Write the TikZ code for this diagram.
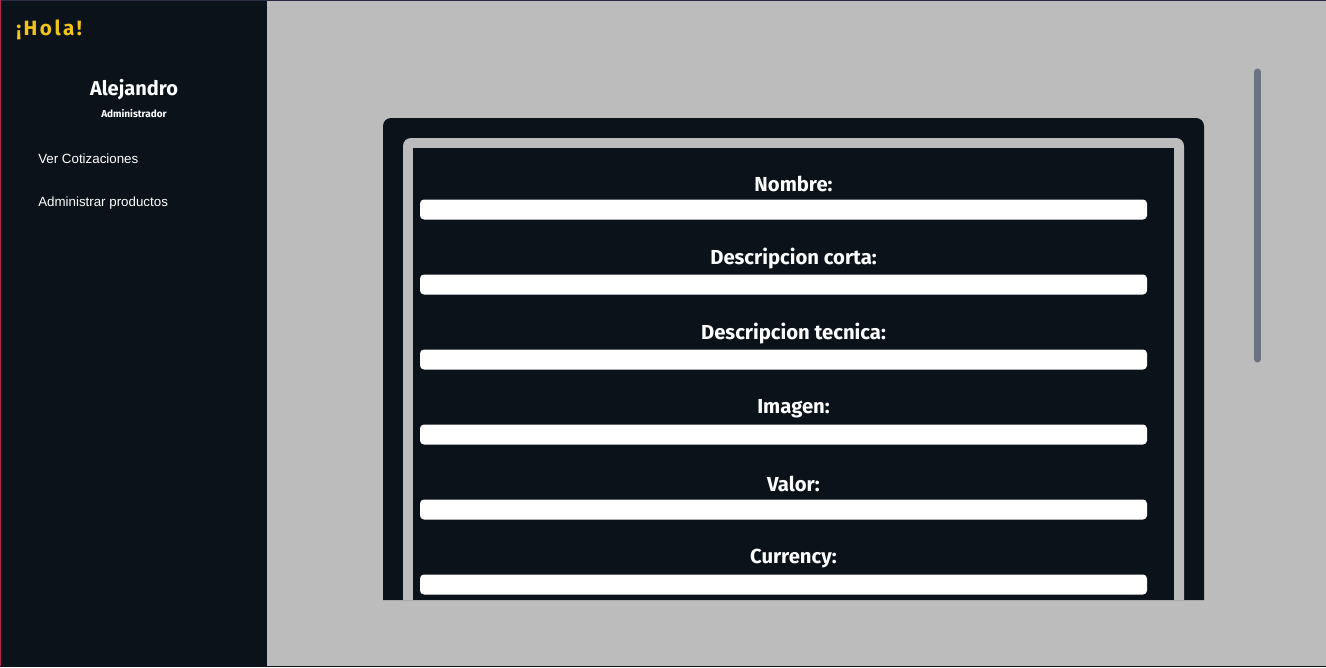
\documentclass[tikz,border=0pt]{standalone}
\usepackage{fontspec}
\setmainfont{Liberation Sans}
\newfontfamily\headfont{Fira Sans}
\usetikzlibrary{positioning}
\definecolor{sidebg}{HTML}{0C121A}
\definecolor{mainbg}{HTML}{BBBCBB}
\definecolor{holayellow}{HTML}{F2C318}
\definecolor{scrollgray}{HTML}{6B7280}
\definecolor{edgered}{HTML}{B0284A}
\definecolor{edgetop}{HTML}{2E2A45}
\tikzset{
    greeting/.style={text=holayellow, font=\headfont\bfseries\addfontfeature{LetterSpace=12}\fontsize{15.5}{18}\selectfont, inner sep=0pt},
    username/.style={text=white, font=\headfont\bfseries\fontsize{15}{18}\selectfont, inner sep=0pt},
    userrole/.style={text=white, font=\headfont\bfseries\fontsize{7.5}{9}\selectfont, inner sep=0pt},
    menuitem/.style={text=white, font=\fontsize{10}{12}\selectfont, inner sep=0pt, anchor=west},
    fieldlabel/.style={text=white, font=\headfont\bfseries\fontsize{15.2}{18}\selectfont, inner sep=0pt},
    field/.style={fill=white, rounded corners=3pt, minimum width=545.25pt, minimum height=15pt, inner sep=0pt},
    scrollbar/.style={line width=5.25pt, line cap=round, scrollgray},
}

\begin{document}
\begin{tikzpicture}[x=0.75pt, y=-0.75pt]
    % page
    \useasboundingbox (0,0) rectangle (1326,667);
    \fill[mainbg] (0,0) rectangle (1326,667);
    \fill[sidebg] (0,0) rectangle (267,667);
    \draw[edgetop, line width=0.75pt] (0,0.5) -- (1326,0.5);
    \draw[edgered, line width=0.75pt] (0.5,0) -- (0.5,667);
    \draw[sidebg, line width=0.75pt] (0,666.5) -- (1326,666.5);

    % sidebar
    \node[greeting, anchor=west] (hola) at (16,29.5) {¡Hola!};
    \node[username] (name) at (134,90) {Alejandro};
    \node[userrole, below=6.5pt of name] (role) {Administrador};
    \node[menuitem] (cotiz) at (38,158.5) {Ver Cotizaciones};
    \node[menuitem] (products) at (38,203.5) {Administrar productos};

    % scrollbar
    \coordinate (sbtop) at (1257.5,72);
    \coordinate (sbbot) at (1257.5,359);
    \draw[scrollbar] (sbtop) -- (sbbot);

    % form card
    \fill[sidebg, rounded corners=6pt] (383,600) -- (383,118) -- (1204,118) -- (1204,600);
    \fill[mainbg, rounded corners=6pt] (403,600) -- (403,138) -- (1184,138) -- (1184,600);
    \fill[sidebg] (413,148) rectangle (1174,600);

    % fields
    \foreach \txt [count=\i from 0] in {Nombre:, Descripcion corta:, Descripcion tecnica:, Imagen:, Valor:, Currency:} {
        \node[fieldlabel] (lbl\i) at (793.5,183.5+75*\i) {\txt};
        \node[field] (fld\i) at (783.5,209.5+75*\i) {};
    }
\end{tikzpicture}
\end{document}
